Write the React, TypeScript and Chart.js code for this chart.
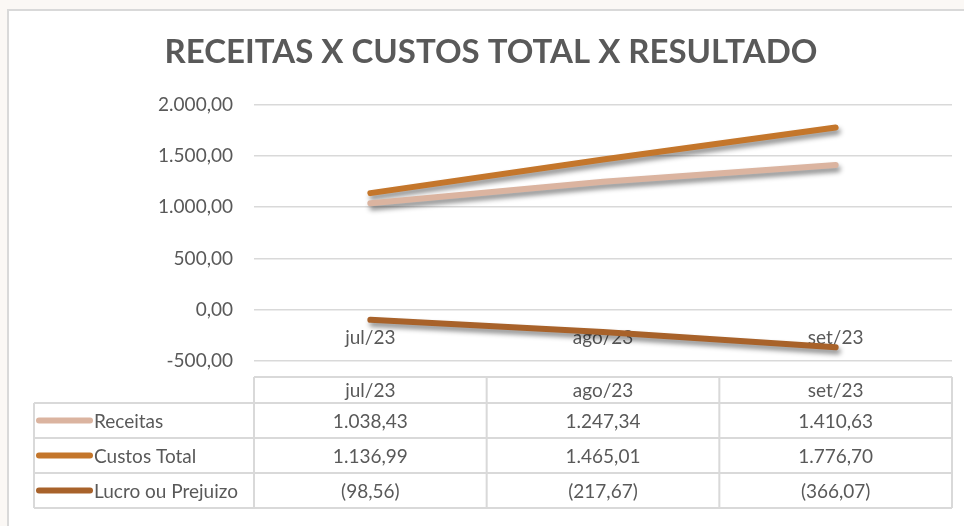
import { useEffect, useRef } from "react";
import { Chart, registerables } from "chart.js";

Chart.register(...registerables);

const TITLE = "RECEITAS X CUSTOS TOTAL X RESULTADO";
const CATEGORIES = ["jul/23", "ago/23", "set/23"];
const SERIES_NAMES = ["Receitas", "Custos Total", "Lucro ou Prejuizo"];
const RECEITAS = [1038.43, 1247.34, 1410.63];
const CUSTOS_TOTAL = [1136.99, 1465.01, 1776.7];
const LUCRO_PREJUIZO = [-98.56, -217.67, -366.07];
const Y_MIN = -500;
const Y_MAX = 2000;
const Y_STEP = 500;

const COLORS = ["#dbb4a0", "#c4762b", "#a8622a"];
const TEXT = "#595959";
const GRID = "#d9d9d9";
const FONT = "Lato, 'Open Sans', sans-serif";

function fmtAbs(v: number): string {
  const [i, d] = Math.abs(v).toFixed(2).split(".");
  return i.replace(/\B(?=(\d{3})+(?!\d))/g, ".") + "," + d;
}
const axisFmt = (v: number) => (v < 0 ? "-" : "") + fmtAbs(v);
const tableFmt = (v: number) => (v < 0 ? "(" + fmtAbs(v) + ")" : fmtAbs(v));

const shadowPlugin = {
  id: "lineShadow",
  beforeDatasetDraw(chart: any) {
    const ctx = chart.ctx;
    ctx.save();
    ctx.shadowColor = "rgba(0,0,0,0.45)";
    ctx.shadowBlur = 5;
    ctx.shadowOffsetX = 2;
    ctx.shadowOffsetY = 4;
  },
  afterDatasetDraw(chart: any) {
    chart.ctx.restore();
  },
};

const tablePlugin = {
  id: "dataTable",
  afterDraw(chart: any) {
    const { ctx, chartArea } = chart;
    const x = chart.scales.x;
    const n = CATEGORIES.length;
    const colW = (chartArea.right - chartArea.left) / n;
    const top = chartArea.bottom + 16;
    const headerH = 26;
    const rowH = 35;
    const legendLeft = 34;
    const rows = [
      { name: SERIES_NAMES[0], values: RECEITAS, color: COLORS[0] },
      { name: SERIES_NAMES[1], values: CUSTOS_TOTAL, color: COLORS[1] },
      { name: SERIES_NAMES[2], values: LUCRO_PREJUIZO, color: COLORS[2] },
    ];
    const bottom = top + headerH + rowH * rows.length;
    ctx.save();
    ctx.strokeStyle = GRID;
    ctx.lineWidth = 2;
    ctx.beginPath();
    ctx.moveTo(chartArea.left, top);
    ctx.lineTo(chartArea.right, top);
    for (let r = 0; r <= rows.length; r++) {
      const y = top + headerH + r * rowH;
      ctx.moveTo(legendLeft, y);
      ctx.lineTo(chartArea.right, y);
    }
    ctx.moveTo(legendLeft, top + headerH);
    ctx.lineTo(legendLeft, bottom);
    for (let i = 0; i <= n; i++) {
      const cx = chartArea.left + i * colW;
      ctx.moveTo(cx, top);
      ctx.lineTo(cx, bottom);
    }
    ctx.stroke();

    ctx.fillStyle = TEXT;
    ctx.font = "19px " + FONT;
    ctx.textBaseline = "middle";
    ctx.textAlign = "center";
    CATEGORIES.forEach((c, i) => {
      ctx.fillText(c, x.getPixelForValue(i), top + headerH / 2 + 1);
    });
    rows.forEach((row, r) => {
      const cy = top + headerH + r * rowH + rowH / 2;
      ctx.strokeStyle = row.color;
      ctx.lineWidth = 6;
      ctx.lineCap = "round";
      ctx.beginPath();
      ctx.moveTo(39, cy);
      ctx.lineTo(90, cy);
      ctx.stroke();
      ctx.fillStyle = TEXT;
      ctx.textAlign = "left";
      ctx.fillText(row.name, 94, cy + 1);
      ctx.textAlign = "center";
      row.values.forEach((v, i) => {
        ctx.fillText(tableFmt(v), x.getPixelForValue(i), cy + 1);
      });
    });
    ctx.restore();
  },
};

export default function App() {
  const ref = useRef<HTMLCanvasElement | null>(null);
  useEffect(() => {
    if (!ref.current) return;
    const mk = (i: number, data: number[]) => ({
      label: SERIES_NAMES[i],
      data,
      borderColor: COLORS[i],
      backgroundColor: COLORS[i],
      borderWidth: 6,
      borderCapStyle: "round" as const,
      borderJoinStyle: "round" as const,
      pointRadius: 0,
      pointHoverRadius: 0,
      tension: 0,
      fill: false,
    });
    const chart = new Chart(ref.current, {
      type: "line",
      data: {
        labels: CATEGORIES,
        datasets: [mk(0, RECEITAS), mk(1, CUSTOS_TOTAL), mk(2, LUCRO_PREJUIZO)],
      },
      options: {
        responsive: false,
        animation: false,
        layout: { padding: { left: 30, right: 12, top: 0, bottom: 165 } },
        plugins: {
          legend: { display: false },
          tooltip: { enabled: false },
          title: {
            display: true,
            text: TITLE,
            color: TEXT,
            font: { family: FONT, size: 33, weight: "bold" },
            padding: { top: 33, bottom: 32 },
          },
        },
        scales: {
          x: {
            type: "category",
            offset: true,
            position: { y: 0 } as any,
            grid: { display: false, drawTicks: false },
            border: { display: false },
            ticks: {
              color: TEXT,
              font: { family: FONT, size: 19 },
              padding: 17,
              maxRotation: 0,
              autoSkip: false,
            },
          },
          y: {
            min: Y_MIN,
            max: Y_MAX,
            ticks: {
              stepSize: Y_STEP,
              color: TEXT,
              font: { family: FONT, size: 19 },
              padding: 21,
              callback: (v: any) => axisFmt(Number(v)),
            },
            grid: { color: GRID, lineWidth: 1.5, drawTicks: false },
            border: { display: false },
            afterFit: (s: any) => {
              s.width = 224;
            },
          },
        },
      },
      plugins: [shadowPlugin, tablePlugin],
    } as any);
    return () => chart.destroy();
  }, []);

  return (
    <div
      style={{
        position: "absolute",
        left: 0,
        top: 0,
        width: 964,
        height: 526,
        overflow: "hidden",
        background: "#fbf8f5",
      }}
    >
      <div
        style={{
          position: "absolute",
          left: 7,
          top: 9,
          width: 1000,
          height: 600,
          background: "#ffffff",
          borderLeft: "2px solid #d9d9d9",
          borderTop: "2px solid #d9d9d9",
        }}
      />
      <canvas
        ref={ref}
        width={964}
        height={526}
        style={{ position: "absolute", left: 0, top: 0, width: 964, height: 526 }}
      />
    </div>
  );
}
